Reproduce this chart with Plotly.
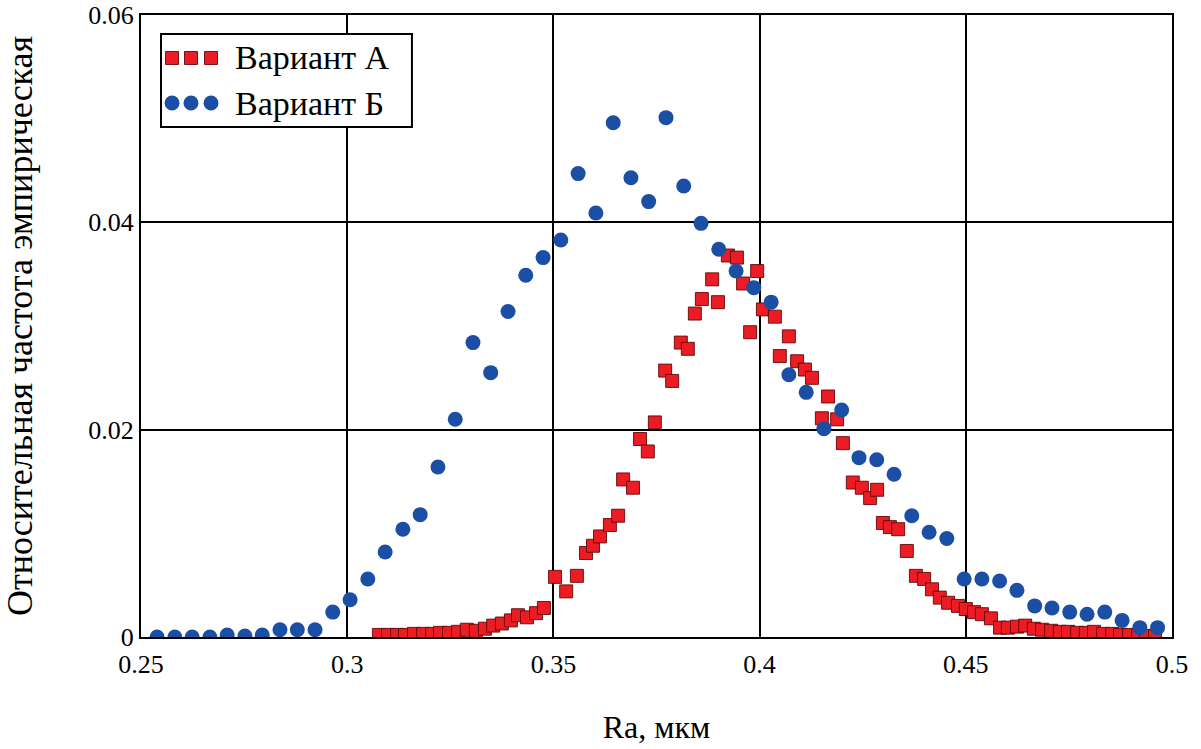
import plotly.graph_objects as go

# ---- Data ----
x_b = [0.2539, 0.2582, 0.2624, 0.2667, 0.2709, 0.2752, 0.2794, 0.2837, 0.2879, 0.2922,
       0.2965, 0.3007, 0.3050, 0.3092, 0.3135, 0.3177, 0.3220, 0.3262, 0.3305, 0.3348,
       0.3390, 0.3433, 0.3475, 0.3518, 0.3560, 0.3603, 0.3645, 0.3688, 0.3731, 0.3773,
       0.3816, 0.3858, 0.3901, 0.3943, 0.3986, 0.4028, 0.4071, 0.4113, 0.4156, 0.4199,
       0.4241, 0.4284, 0.4326, 0.4369, 0.4411, 0.4454, 0.4496, 0.4539, 0.4582, 0.4624,
       0.4667, 0.4709, 0.4752, 0.4794, 0.4837, 0.4879, 0.4922, 0.4965]
y_b = [0.0, 0.0, 0.0, 0.0, 0.0002, 0.0001, 0.0002, 0.0007, 0.0007, 0.0007,
       0.0024, 0.0036, 0.0056, 0.0082, 0.0104, 0.0118, 0.0164, 0.0210, 0.0284, 0.0255,
       0.0314, 0.0349, 0.0366, 0.0383, 0.0447, 0.0409, 0.0496, 0.0443, 0.0420, 0.0501,
       0.0435, 0.0399, 0.0374, 0.0353, 0.0337, 0.0323, 0.0253, 0.0236, 0.0201, 0.0219,
       0.0173, 0.0171, 0.0157, 0.0117, 0.0101, 0.0095, 0.0056, 0.0056, 0.0054, 0.0045,
       0.0030, 0.0028, 0.0024, 0.0022, 0.0024, 0.0016, 0.0009, 0.0009]

x_a = [0.3077, 0.3099, 0.3121, 0.3140, 0.3162, 0.3184, 0.3206, 0.3225, 0.3247, 0.3269,
       0.3290, 0.3312, 0.3334, 0.3354, 0.3375, 0.3397, 0.3414, 0.3436, 0.3458, 0.3477,
       0.3504, 0.3531, 0.3557, 0.3579, 0.3596, 0.3613, 0.3637, 0.3657, 0.3669, 0.3693,
       0.3710, 0.3729, 0.3746, 0.3771, 0.3788, 0.3809, 0.3826, 0.3843, 0.3860, 0.3885,
       0.3899, 0.3923, 0.3945, 0.3960, 0.3977, 0.3994, 0.4008, 0.4037, 0.4049, 0.4071,
       0.4091, 0.4110, 0.4127, 0.4151, 0.4166, 0.4188, 0.4202, 0.4226, 0.4248, 0.4268,
       0.4285, 0.4299, 0.4316, 0.4336, 0.4357, 0.4379, 0.4399, 0.4418, 0.4437, 0.4457,
       0.4481, 0.4500, 0.4520, 0.4539, 0.4561, 0.4583, 0.4602, 0.4624, 0.4644, 0.4665,
       0.4685, 0.4707, 0.4728, 0.4748, 0.4770, 0.4791, 0.4811, 0.4833, 0.4855, 0.4874,
       0.4896, 0.4918, 0.4937, 0.4959]
y_a = [0.0002, 0.0002, 0.0002, 0.0002, 0.0003, 0.0003, 0.0003, 0.0004, 0.0004, 0.0005,
       0.0007, 0.0006, 0.0008, 0.0011, 0.0013, 0.0016, 0.0021, 0.0019, 0.0023, 0.0028,
       0.0058, 0.0044, 0.0059, 0.0081, 0.0088, 0.0097, 0.0108, 0.0117, 0.0152, 0.0144,
       0.0191, 0.0179, 0.0207, 0.0257, 0.0247, 0.0284, 0.0278, 0.0312, 0.0326, 0.0345,
       0.0323, 0.0368, 0.0366, 0.0341, 0.0294, 0.0353, 0.0316, 0.0309, 0.0271, 0.0290,
       0.0266, 0.0258, 0.0250, 0.0211, 0.0232, 0.0210, 0.0187, 0.0149, 0.0144, 0.0134,
       0.0142, 0.0110, 0.0106, 0.0104, 0.0083, 0.0059, 0.0056, 0.0046, 0.0038, 0.0033,
       0.0030, 0.0027, 0.0024, 0.0022, 0.0018, 0.0009, 0.0009, 0.0010, 0.0011, 0.0008,
       0.0007, 0.0006, 0.0005, 0.0005, 0.0004, 0.0004, 0.0005, 0.0003, 0.0003, 0.0002,
       0.0002, 0.0002, 0.0001, 0.0001]

series_names = ["Вариант А", "Вариант Б"]
x_ticks = [0.25, 0.3, 0.35, 0.4, 0.45, 0.5]
x_tick_text = ["0.25", "0.3", "0.35", "0.4", "0.45", "0.5"]
y_ticks = [0, 0.02, 0.04, 0.06]
y_tick_text = ["0", "0.02", "0.04", "0.06"]

RED = "#ec1c24"
BLUE = "#1b4fa5"
FONT = "Liberation Serif, Times New Roman, serif"

fig = go.Figure()
fig.add_trace(go.Scatter(
    x=x_a, y=y_a, mode="markers", name=series_names[0], showlegend=False,
    marker=dict(symbol="square", size=13, color=RED,
                line=dict(color="rgba(90,0,0,0.85)", width=1)),
))
fig.add_trace(go.Scatter(
    x=x_b, y=y_b, mode="markers", name=series_names[1], showlegend=False,
    marker=dict(symbol="circle", size=15, color=BLUE, line=dict(width=0)),
))

axis_common = dict(
    showline=True, mirror=True, linecolor="black", linewidth=2,
    showgrid=True, gridcolor="black", gridwidth=2, automargin=False,
    ticklabeloverflow="allow",
    zeroline=False, ticks="", tickfont=dict(family=FONT, size=26, color="black"),
)
fig.update_xaxes(range=[0.25, 0.5], tickvals=x_ticks, ticktext=x_tick_text,
                 ticklabelstandoff=3,
                 title=dict(text="Ra, мкм", font=dict(family=FONT, size=32, color="black"),
                            standoff=37),
                 **axis_common)
fig.update_yaxes(range=[0, 0.06], tickvals=y_ticks, ticktext=y_tick_text,
                 title=dict(text="Относительная частота эмпирическая",
                            font=dict(family=FONT, size=36, color="black"), standoff=45),
                 **axis_common)

# ---- custom legend (box, three markers per row, text) ----
shapes = [dict(type="rect", xref="paper", yref="paper", x0=0.0194, x1=0.2628,
               y0=0.820, y1=0.9695, line=dict(color="black", width=2),
               fillcolor="white", layer="above")]
for xc in [0.0301, 0.0485, 0.0679]:
    shapes.append(dict(type="rect", xref="paper", yref="paper",
                       xsizemode="pixel", ysizemode="pixel",
                       xanchor=xc, yanchor=0.9309,
                       x0=-6.5, x1=6.5, y0=-6.5, y1=6.5,
                       fillcolor=RED, line=dict(color="rgba(90,0,0,0.85)", width=1),
                       layer="above"))
    shapes.append(dict(type="circle", xref="paper", yref="paper",
                       xsizemode="pixel", ysizemode="pixel",
                       xanchor=xc, yanchor=0.8585,
                       x0=-7.5, x1=7.5, y0=-7.5, y1=7.5,
                       fillcolor=BLUE, line=dict(width=0), layer="above"))
annotations = [
    dict(text=series_names[0], xref="paper", yref="paper", x=0.0892, y=0.9309,
         xanchor="left", yanchor="middle", showarrow=False,
         font=dict(family=FONT, size=34, color="black")),
    dict(text=series_names[1], xref="paper", yref="paper", x=0.0892, y=0.8585,
         xanchor="left", yanchor="middle", showarrow=False,
         font=dict(family=FONT, size=34, color="black")),
]

fig.update_layout(
    width=1201, height=749,
    margin=dict(l=141, r=29, t=15, b=112),
    plot_bgcolor="white", paper_bgcolor="white",
    shapes=shapes, annotations=annotations,
    font=dict(family=FONT, color="black"),
)

# remove the default 8 px page margin so the figure fills the window exactly
fig.write_html("out.html", config={"displayModeBar": False},
               post_script="document.body.style.margin='0px';")
